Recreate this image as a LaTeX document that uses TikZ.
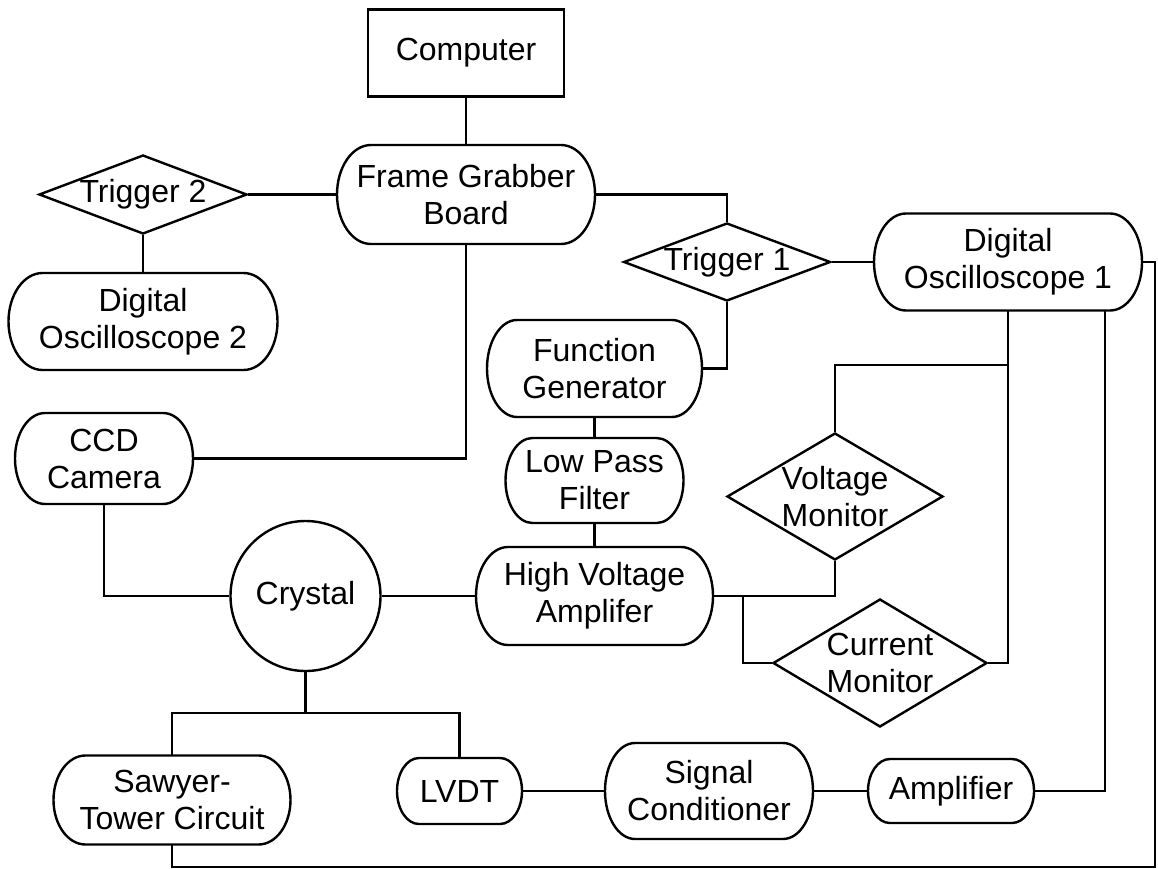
\documentclass[tikz,border=0pt]{standalone}
\usepackage{fontspec}
\setmainfont{Liberation Sans}
\usetikzlibrary{shapes.geometric,calc}

\begin{document}
\begin{tikzpicture}[
    x=1pt, y=-1pt,
    every node/.style={font=\fontsize{32}{37}\selectfont, align=center, inner sep=0pt},
    box/.style={draw, rectangle},
    pill/.style={rectangle, outer sep=0pt},
    rhomb/.style={draw, diamond},
  line width=2.4pt, line join=miter]

  \useasboundingbox (0,0) rectangle (1158,869);

  % Computer and frame grabber
  \node [box, minimum width=196, minimum height=87] (comp) at (466,53) {Computer};
  \node [pill, minimum width=258, minimum height=99] (fgb) at (466,194.5) {Frame Grabber\\Board};

  % left branch
  \node [rhomb, shape aspect=2.64, minimum width=208, minimum height=79] (trigtwo) at (143,194.5) {Trigger 2};
  \node [pill, minimum width=269, minimum height=97] (dosctwo) at (143,321.5) {Digital\\Oscilloscope 2};
  \node [pill, minimum width=178, minimum height=91] (ccd) at (104,458.5) {CCD\\Camera};

  % right branch
  \node [rhomb, shape aspect=2.64, minimum width=207, minimum height=78] (trigone) at (727,262) {Trigger 1};
  \node [pill, minimum width=268, minimum height=97] (doscone) at (1008,262) {Digital\\Oscilloscope 1};

  % drive chain
  \node [pill, minimum width=215, minimum height=97] (fgen) at (594.5,368.5) {Function\\Generator};
  \node [pill, minimum width=178, minimum height=85] (lpf) at (594.5,480.5) {Low Pass\\Filter};
  \node [pill, minimum width=237, minimum height=98] (hva) at (594.5,596) {High Voltage\\Amplifer};
  \node [draw, circle, minimum size=150] (crystal) at (305.5,596) {Crystal};

  % monitors
  \node [rhomb, shape aspect=1.7, minimum width=216, minimum height=127] (vmon) at (835,496.5) {Voltage\\Monitor};
  \node [rhomb, shape aspect=1.7, minimum width=214, minimum height=128] (cmon) at (880,663) {Current\\Monitor};

  % bottom row
  \node [pill, minimum width=237, minimum height=89] (sawyer) at (172,800) {Sawyer-\\Tower Circuit};
  \node [pill, minimum width=125, minimum height=66] (lvdt) at (459.5,791) {LVDT};
  \node [pill, minimum width=208, minimum height=96] (sigc) at (709,791) {Signal\\Conditioner};
  \node [pill, minimum width=166, minimum height=64] (amp) at (951,791) {Amplifier};

  % outlines with oval ends
  \foreach \nd/\r in {fgb/34, dosctwo/34, ccd/30, doscone/32, fgen/30,
                      lpf/27, hva/32, sawyer/32, lvdt/22, sigc/30, amp/22}
    \draw let \p1=(\nd.north west), \p2=(\nd.south east), \n1={(\y1-\y2)/2} in
      (\x1+\r pt,\y1) -- (\x2-\r pt,\y1)
      arc [start angle=90, end angle=-90, x radius=\r pt, y radius=\n1]
      -- (\x1+\r pt,\y2)
      arc [start angle=270, end angle=90, x radius=\r pt, y radius=\n1]
      -- cycle;

  % tap points
  \coordinate (hvtap) at (743,596);
  \coordinate (vtap) at (1008,365);
  \coordinate (ctap) at (305.5,713);
  \coordinate (rcorner) at (1155,867);

  % connections
  \draw (comp) -- (fgb);
  \draw (trigtwo) -- (fgb);
  \draw (trigtwo) -- (dosctwo);
  \draw (fgb.east) -| (trigone.north);
  \draw (trigone) -- (doscone);
  \draw (trigone.south) |- (fgen.east);
  \draw (fgb.south) |- (ccd.east);
  \draw (fgen) -- (lpf);
  \draw (lpf) -- (hva);
  \draw (ccd.south) |- (crystal.west);
  \draw (crystal) -- (hva);
  \draw (hva.east) -| (vmon.south);
  \draw (hvtap) |- (cmon.west);
  \draw (vmon.north) |- (vtap);
  \draw (doscone.south) |- (cmon.east);
  \draw (doscone.south) ++(97,0) |- (amp.east);
  \draw (doscone.east) -| (rcorner) -| (sawyer.south);
  \draw (crystal) -- (ctap);
  \draw (sawyer.north) |- (ctap) -| (lvdt.north);
  \draw (lvdt) -- (sigc);
  \draw (sigc) -- (amp);
\end{tikzpicture}
\end{document}
